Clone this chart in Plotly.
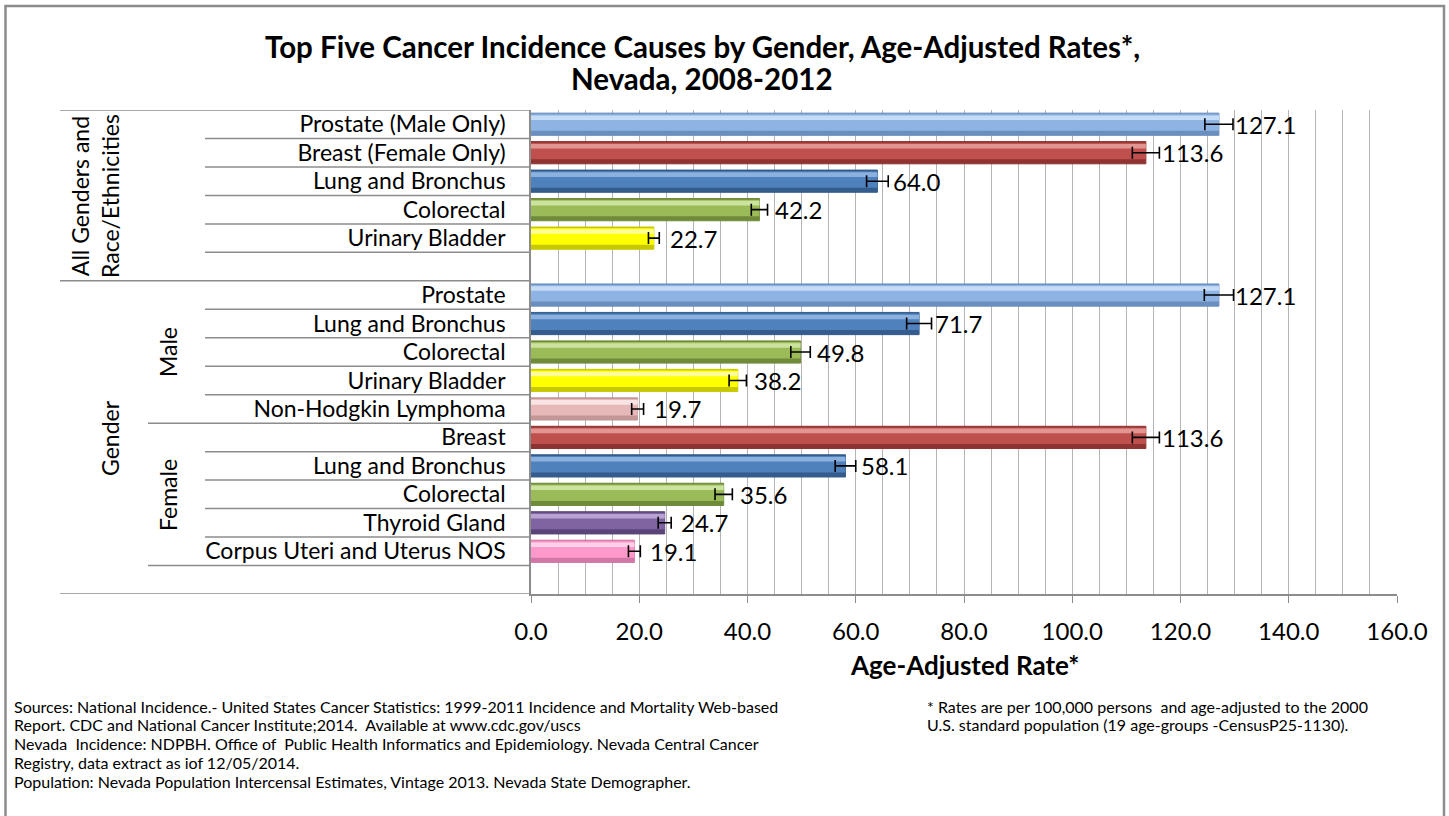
import plotly.graph_objects as go

# ---------------- data ----------------
row_labels = [
    "Prostate (Male Only)", "Breast (Female Only)", "Lung and Bronchus", "Colorectal", "Urinary Bladder", "",
    "Prostate", "Lung and Bronchus", "Colorectal", "Urinary Bladder", "Non-Hodgkin Lymphoma",
    "Breast", "Lung and Bronchus", "Colorectal", "Thyroid Gland", "Corpus Uteri and Uterus NOS", "",
]
rates = [127.1, 113.6, 64.0, 42.2, 22.7, None,
         127.1, 71.7, 49.8, 38.2, 19.7,
         113.6, 58.1, 35.6, 24.7, 19.1, None]
ci_half = [2.6, 2.5, 2.0, 1.5, 1.0, None,
           2.7, 2.3, 1.8, 1.6, 1.1,
           2.5, 1.9, 1.6, 1.2, 1.1, None]
site_key = ["prostate", "breast", "lung", "colorectal", "bladder", None,
            "prostate", "lung", "colorectal", "bladder", "nhl",
            "breast", "lung", "colorectal", "thyroid", "uterus", None]
x_ticks = [0, 20, 40, 60, 80, 100, 120, 140, 160]
x_tick_labels = ["0.0", "20.0", "40.0", "60.0", "80.0", "100.0", "120.0", "140.0", "160.0"]

# styles (main, dark shade, highlight)
palette = {
    "prostate":   ("#8EB4E3", "#6A8FBF", "#C6DBF5"),
    "breast":     ("#C0504D", "#8E3331", "#E39592"),
    "lung":       ("#4F81BD", "#345D8D", "#8DB1DF"),
    "colorectal": ("#9BBB59", "#6F8A39", "#CCE3A0"),
    "bladder":    ("#FFFF00", "#C8C800", "#FFFF99"),
    "nhl":        ("#E6B9B8", "#C49796", "#F8E4E3"),
    "thyroid":    ("#8064A2", "#5A4478", "#B7A2D2"),
    "uterus":     ("#FF99CC", "#D377A6", "#FFD0E8"),
}

FONT = "Lato, Carlito, Calibri, sans-serif"
W, H = 1449, 816
PL, PR, PT, PB = 531, 1397, 110, 594
LAB = 23


def px(x):
    return (x - PL) / (PR - PL)


def py(y):
    return (PB - y) / (PB - PT)


y_idx = list(range(len(row_labels)))
main_c = [palette[k][0] if k else "rgba(0,0,0,0)" for k in site_key]
dark_c = [palette[k][1] if k else "rgba(0,0,0,0)" for k in site_key]
light_c = [palette[k][2] if k else "rgba(0,0,0,0)" for k in site_key]

fig = go.Figure()
fig.add_trace(go.Bar(x=rates, y=y_idx, orientation="h", width=0.78, offset=-0.39,
                     marker=dict(color=dark_c, line=dict(color=dark_c, width=1)),
                     hoverinfo="skip", showlegend=False))
fig.add_trace(go.Bar(x=rates, y=y_idx, orientation="h", width=0.58, offset=-0.35,
                     marker=dict(color=main_c, line=dict(width=0)),
                     hoverinfo="skip", showlegend=False))
fig.add_trace(go.Bar(x=rates, y=y_idx, orientation="h", width=0.16, offset=-0.31,
                     marker=dict(color=light_c, line=dict(width=0)),
                     hoverinfo="skip", showlegend=False))
fig.add_trace(go.Scatter(x=rates, y=y_idx, mode="markers",
                         marker=dict(size=1, color="rgba(0,0,0,0)"),
                         error_x=dict(type="data", array=ci_half, symmetric=True,
                                      color="black", thickness=1.6, width=6),
                         hoverinfo="skip", showlegend=False))

annotations = []
for i, v in enumerate(rates):
    if v is None:
        continue
    annotations.append(dict(x=v, y=i, xref="x", yref="y", text=f"{v:.1f}", xanchor="left",
                            yanchor="middle", xshift=14, showarrow=False,
                            font=dict(family=FONT, size=LAB + 1, color="black")))

def rot(x, y, text):
    return dict(x=px(x), y=py(y), xref="paper", yref="paper", text=text, textangle=-90,
                xanchor="center", yanchor="middle", showarrow=False, align="center",
                font=dict(family=FONT, size=LAB, color="black"))

annotations += [
    rot(95, 196, "All Genders and<br>Race/Ethnicities"),
    rot(110, 438, "Gender"),
    rot(168, 352, "Male"),
    rot(168, 495, "Female"),
]

annotations += [
    dict(x=px(702), y=py(47), xref="paper", yref="paper", xanchor="center", yanchor="middle",
         text="<b>Top Five Cancer Incidence Causes by Gender, Age-Adjusted Rates*,</b>",
         showarrow=False, font=dict(family=FONT, size=29.5, color="black")),
    dict(x=px(702), y=py(78), xref="paper", yref="paper", xanchor="center", yanchor="middle",
         text="<b>Nevada, 2008-2012</b>",
         showarrow=False, font=dict(family=FONT, size=29.5, color="black")),
    dict(x=px(964), y=py(665), xref="paper", yref="paper", xanchor="center", yanchor="middle",
         text="<b>Age-Adjusted Rate*</b>",
         showarrow=False, font=dict(family=FONT, size=26, color="black")),
]

foot_left = [
    "Sources: National Incidence.- United States Cancer Statistics: 1999-2011 Incidence and Mortality Web-based",
    "Report. CDC and National Cancer Institute;2014.  Available at www.cdc.gov/uscs",
    "Nevada  Incidence: NDPBH. Office of  Public Health Informatics and Epidemiology. Nevada Central Cancer",
    "Registry, data extract as iof 12/05/2014.",
    "Population: Nevada Population Intercensal Estimates, Vintage 2013. Nevada State Demographer.",
]
foot_right = [
    "* Rates are per 100,000 persons  and age-adjusted to the 2000",
    "U.S. standard population (19 age-groups -CensusP25-1130).",
]
for k, t in enumerate(foot_left):
    annotations.append(dict(x=px(12), y=py(706 + 18.8 * k), xref="paper", yref="paper",
                            xanchor="left", yanchor="middle", text=t, showarrow=False,
                            font=dict(family=FONT, size=16, color="black")))
for k, t in enumerate(foot_right):
    annotations.append(dict(x=px(925), y=py(706 + 18.8 * k), xref="paper", yref="paper",
                            xanchor="left", yanchor="middle", text=t, showarrow=False,
                            font=dict(family=FONT, size=16, color="black")))

line_col = "#8C8C8C"
shapes = []
sep_left = {-0.5: 60, 5.5: 60, 10.5: 148, 15.5: 148, 16.5: 60}
for b in [i - 0.5 for i in range(len(row_labels) + 1)]:
    left = sep_left.get(b, 205)
    shapes.append(dict(type="line", xref="paper", yref="y", x0=px(left), x1=0, y0=b, y1=b,
                       line=dict(color=line_col, width=1.5)))
shapes.append(dict(type="rect", xref="paper", yref="paper", x0=px(5.5), x1=px(1444),
                   y0=py(830), y1=py(6), line=dict(color="#8C8C8C", width=2.5)))

fig.update_layout(
    width=W, height=H,
    margin=dict(l=PL, r=W - PR, t=PT, b=H - PB),
    paper_bgcolor="white", plot_bgcolor="white",
    barmode="overlay",
    font=dict(family=FONT, size=LAB, color="black"),
    annotations=annotations, shapes=shapes,
    xaxis=dict(range=[0, 160], tickvals=x_ticks, ticktext=x_tick_labels,
               showgrid=True, gridcolor="#B4B4B4", gridwidth=1.2,
               minor=dict(dtick=5, showgrid=True, gridcolor="#B4B4B4", gridwidth=1.2),
               showline=True, linecolor=line_col, linewidth=1.5,
               ticks="outside", ticklen=7, tickcolor=line_col,
               ticklabelstandoff=8, zeroline=False,
               tickfont=dict(family=FONT, size=LAB + 1, color="black")),
    yaxis=dict(range=[16.5, -0.5], tickvals=y_idx, ticktext=row_labels,
               showgrid=False, zeroline=False, showline=True, linecolor=line_col, linewidth=1.5,
               ticks="", ticklabelstandoff=19,
               tickfont=dict(family=FONT, size=LAB, color="black")),
)

fig.write_html("out.html", config={"displayModeBar": False},
               post_script="document.body.style.margin='0';document.body.style.overflow='hidden';")
